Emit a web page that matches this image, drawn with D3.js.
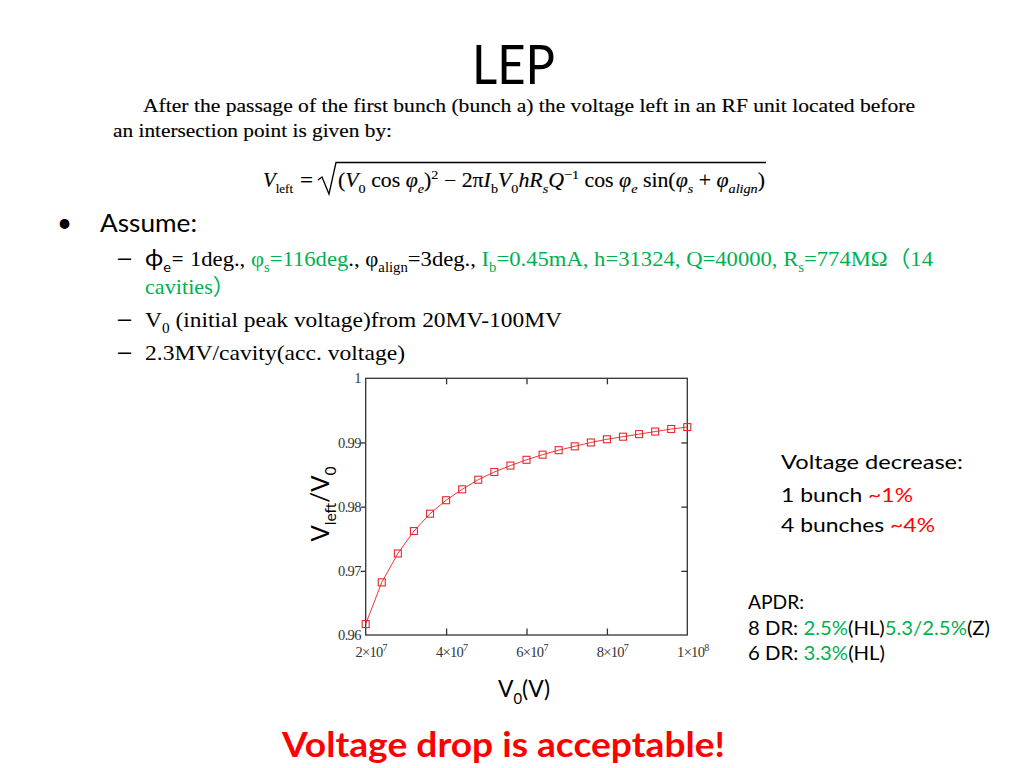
<!DOCTYPE html>
<html><head><meta charset="utf-8">
<script src="https://cdn.jsdelivr.net/npm/d3@7"></script>
<style>html,body{margin:0;padding:0;background:#fff;}svg{display:block;}</style>
</head><body>
<script>
// ---------- data ----------
const v0Volts = [20e6,24e6,28e6,32e6,36e6,40e6,44e6,48e6,52e6,56e6,60e6,64e6,68e6,72e6,76e6,80e6,84e6,88e6,92e6,96e6,100e6];
const vRatio  = [0.9617,0.9682,0.9727,0.9762,0.9789,0.9810,0.9827,0.9842,0.9854,0.9864,0.9873,0.9881,0.9888,0.9894,0.9900,0.9905,0.9909,0.9913,0.9917,0.9921,0.9924];
const xTicks = [2e7,4e7,6e7,8e7,1e8];
const xTickMant = ["2","4","6","8","1"];
const xTickExp = ["7","7","7","7","8"];
const yTicks = [0.96,0.97,0.98,0.99,1];
const yTickLabels = ["0.96","0.97","0.98","0.99","1"];

const SANS = "Lato, 'Noto Sans', 'Noto Sans CJK SC', sans-serif";
const SERIF = "'Liberation Serif', 'DejaVu Serif', 'Noto Sans CJK SC', serif";
const GREEN = "#00b050", RED = "#ff0000";

const svg = d3.select("body").append("svg").attr("width",1024).attr("height",768);
svg.append("rect").attr("width",1024).attr("height",768).attr("fill","#fff");

// rich text helper: parts = [{t, s:'sub'|'sup', c, f, it, fs}]
function rich(x, y, size, font, parts, opts={}) {
  const t = svg.append("text").attr("x",x).attr("y",y).attr("font-family",font)
    .attr("font-size",size).attr("fill",opts.fill||"#000");
  if (opts.anchor) t.attr("text-anchor",opts.anchor);
  if (opts.weight) t.attr("font-weight",opts.weight);
  if (opts.transform) t.attr("transform",opts.transform);
  if (opts.heavy) t.attr("stroke","#000").attr("stroke-width",opts.heavy);
  let cur = 0;
  parts.forEach(p => {
    if (typeof p === "string") p = {t:p};
    let shift = 0, fs = size;
    if (p.s === "sub") { shift = size*0.28; fs = size*0.65; }
    if (p.s === "sup") { shift = -size*0.38; fs = size*0.65; }
    const ts = t.append("tspan").text(p.t).attr("dy", shift-cur).attr("font-size", p.fs||fs);
    cur = shift;
    if (p.c) ts.attr("fill", p.c);
    if (p.f) ts.attr("font-family", p.f);
    if (p.it) ts.attr("font-style","italic");
  });
  if (opts.len) t.attr("textLength",opts.len).attr("lengthAdjust","spacingAndGlyphs");
  return t;
}

// ---------- title ----------
rich(513.5, 84, 54, SANS, ["LEP"], {anchor:"middle", len:83});

// ---------- paragraph ----------
rich(143, 112, 19.5, SERIF, ["After the passage of the first bunch (bunch a) the voltage left in an RF unit located before"], {len:772, heavy:0.15});
rich(113, 137, 19.5, SERIF, ["an intersection point is given by:"], {len:279, heavy:0.15});

// formula
rich(263, 187, 21, SERIF, [{t:"V",it:1},{t:"left",s:"sub",fs:13}], {len:30, heavy:0.15});
rich(300, 187, 21, SERIF, ["="], {len:13, heavy:0.15});
svg.append("path").attr("d","M318,180 L322,177 L329,194 L336,162.5 L766,162.5")
  .attr("fill","none").attr("stroke","#000").attr("stroke-width",1.3);
rich(338, 187, 20, SERIF, [
  "(",{t:"V",it:1},{t:"0",s:"sub"}," cos ",{t:"φ",it:1},{t:"e",s:"sub",it:1},")",{t:"2",s:"sup"},
  " − 2π",{t:"I",it:1},{t:"b",s:"sub"},{t:"V",it:1},{t:"0",s:"sub"},{t:"hR",it:1},{t:"s",s:"sub",it:1},
  {t:"Q",it:1},{t:"−1",s:"sup"}," cos ",{t:"φ",it:1},{t:"e",s:"sub",it:1}," sin(",{t:"φ",it:1},{t:"s",s:"sub",it:1},
  " + ",{t:"φ",it:1},{t:"align",s:"sub",it:1},")"
], {len:427, heavy:0.15});

// ---------- Assume ----------
rich(57, 232, 26, SANS, ["•"]);
rich(100, 231.5, 25.5, SANS, ["Assume:"], {len:97});
[266, 327, 360].forEach(y => rich(115, y, 24, SANS, ["–"], {len:19}));
rich(145, 266, 22, SERIF, [
  {t:"ϕ",f:SANS,fs:24},{t:"e",s:"sub",f:SANS},{t:"= ",f:SANS},"1deg., ",
  {t:"φ",c:GREEN},{t:"s",s:"sub",c:GREEN},{t:"=116deg",c:GREEN},"., φ",{t:"align",s:"sub"},"=3deg., ",
  {t:"I",c:GREEN},{t:"b",s:"sub",c:GREEN},{t:"=0.45mA, h=31324, Q=40000, R",c:GREEN},{t:"s",s:"sub",c:GREEN},
  {t:"=774MΩ（14",c:GREEN}
], {len:788});
rich(145, 294, 22, SERIF, [{t:"cavities）",c:GREEN}], {len:90});
rich(145, 327, 22, SERIF, ["V",{t:"0",s:"sub"}," (initial peak voltage)from 20MV-100MV"], {len:417});
rich(145, 360, 22, SERIF, ["2.3MV/cavity(acc. voltage)"], {len:260});

// ---------- chart ----------
const L=365.7, R=687.3, T=378.3, B=635;
const x = d3.scaleLinear().domain([2e7,1e8]).range([L,R]);
const y = d3.scaleLinear().domain([0.96,1]).range([B,T]);
const AX = "#333";

const innerX = xTicks.slice(1,4), innerY = yTicks.slice(1,4);
function styleAxis(g){ g.select(".domain").remove(); g.selectAll(".tick line").attr("stroke",AX).attr("stroke-width",1.3); }
svg.append("g").attr("transform",`translate(0,${B})`)
  .call(d3.axisBottom(x).tickValues(innerX).tickSize(-6.5).tickFormat("")).call(styleAxis);
svg.append("g").attr("transform",`translate(0,${T})`)
  .call(d3.axisTop(x).tickValues(innerX).tickSize(-6).tickFormat("")).call(styleAxis);
svg.append("g").attr("transform",`translate(${R},0)`)
  .call(d3.axisRight(y).tickValues(innerY).tickSize(-6).tickFormat("")).call(styleAxis);
svg.append("g").attr("transform",`translate(${L},0)`)
  .call(d3.axisLeft(y).tickValues(innerY).tickSize(5).tickFormat("")).call(styleAxis);

// y tick labels
const yl = svg.append("g").attr("transform",`translate(${L},0)`)
  .call(d3.axisLeft(y).tickValues(yTicks).tickSize(0).tickPadding(5).tickFormat((d,i)=>yTickLabels[i]));
yl.select(".domain").remove();
yl.selectAll("text").attr("font-family",SERIF).attr("font-size",14.5).attr("fill","#333").attr("letter-spacing",-0.7);

// x tick labels
const xl = svg.append("g").attr("transform",`translate(0,${B})`)
  .call(d3.axisBottom(x).tickValues(xTicks).tickSize(0).tickPadding(12));
xl.select(".domain").remove();
xl.selectAll(".tick text").each(function(d,i){
  const t = d3.select(this).text(null).attr("font-family",SERIF).attr("font-size",14.5).attr("fill","#333").attr("letter-spacing",-0.7).attr("dx","5");
  t.append("tspan").text(xTickMant[i]+"×10");
  t.append("tspan").text(xTickExp[i]).attr("font-size",10).attr("dy",-6);
});

// frame
svg.append("rect").attr("x",L).attr("y",T).attr("width",R-L).attr("height",B-T)
  .attr("fill","none").attr("stroke",AX).attr("stroke-width",1.3);

// line & markers
const pts = v0Volts.map((v,i)=>[v,vRatio[i]]);
svg.append("path").datum(pts)
  .attr("d", d3.line().x(d=>x(d[0])).y(d=>y(d[1])))
  .attr("fill","none").attr("stroke","#e8383c").attr("stroke-width",1);
svg.append("g").selectAll("rect").data(pts).join("rect")
  .attr("x",d=>x(d[0])-3.5).attr("y",d=>y(d[1])-3.5).attr("width",7).attr("height",7)
  .attr("fill","none").attr("stroke","#e8282c").attr("stroke-width",1.1);

// axis titles
rich(0, 0, 25, SANS, ["V",{t:"left",s:"sub"},"/V",{t:"0",s:"sub"}], {anchor:"middle", transform:"translate(329,504) rotate(-90)", len:75});
rich(524, 697, 24, SANS, ["V",{t:"0",s:"sub"},"(V)"], {anchor:"middle", len:52});

// ---------- right notes ----------
rich(781, 468.5, 20, SANS, ["Voltage decrease:"], {len:182});
rich(781, 502, 20, SANS, ["1 bunch ",{t:"~1%",c:RED}], {len:132});
rich(781, 532, 20, SANS, ["4 bunches ",{t:"~4%",c:RED}], {len:154});
rich(748, 608.5, 20, SANS, ["APDR:"], {len:56});
rich(748, 634.5, 20, SANS, ["8 DR: ",{t:"2.5%",c:GREEN},"(HL)",{t:"5.3/2.5%",c:GREEN},"(Z)"], {len:242});
rich(748, 660, 20, SANS, ["6 DR: ",{t:"3.3%",c:GREEN},"(HL)"], {len:137});

// ---------- conclusion ----------
rich(503.5, 757, 35, SANS, ["Voltage drop is acceptable!"], {anchor:"middle", weight:"bold", fill:RED, len:443});
</script>
</body></html>
